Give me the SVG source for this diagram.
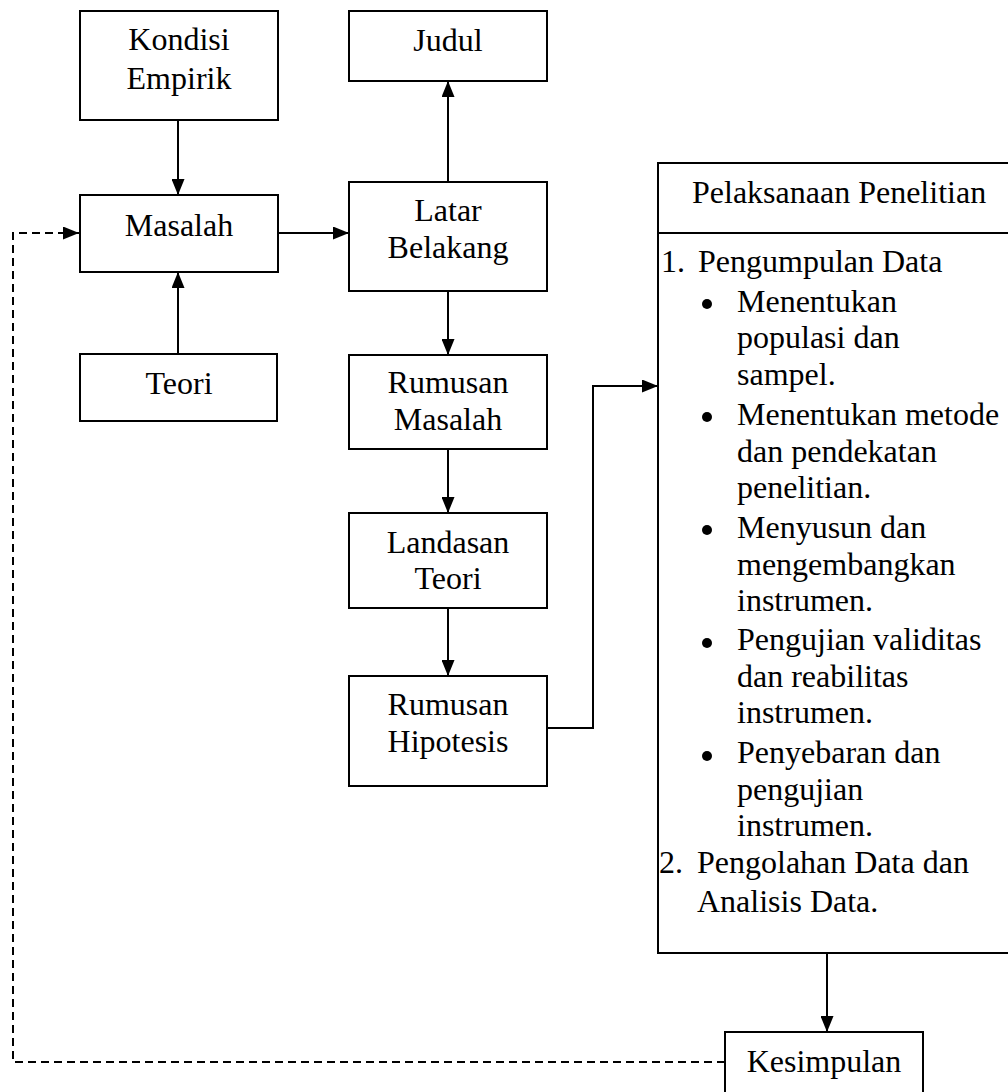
<svg xmlns="http://www.w3.org/2000/svg" width="1008" height="1092" viewBox="0 0 1008 1092">
<defs>
<marker id="ah" viewBox="0 0 16 13" refX="16" refY="6.5" markerWidth="16" markerHeight="13" markerUnits="userSpaceOnUse" orient="auto">
<path d="M0,0 L16,6.5 L0,13 Z" fill="#000"/>
</marker>
<style>
.box{fill:#fff;stroke:#000;stroke-width:2}
.t{font-family:"Liberation Serif","Times New Roman",serif;font-size:32px;fill:#000}
.c{text-anchor:middle}
.ln{fill:none;stroke:#000;stroke-width:2}
.dash{fill:none;stroke:#000;stroke-width:2;stroke-dasharray:8 5}
</style>
</defs>
<rect width="1008" height="1092" fill="#fff"/>

<g id="connectors">
<line class="ln" x1="178" y1="120" x2="178" y2="195" marker-end="url(#ah)"/>
<line class="ln" x1="178" y1="354" x2="178" y2="272" marker-end="url(#ah)"/>
<line class="ln" x1="278" y1="233" x2="349" y2="233" marker-end="url(#ah)"/>
<line class="ln" x1="448" y1="182" x2="448" y2="81" marker-end="url(#ah)"/>
<line class="ln" x1="448" y1="291" x2="448" y2="355" marker-end="url(#ah)"/>
<line class="ln" x1="448" y1="449" x2="448" y2="513" marker-end="url(#ah)"/>
<line class="ln" x1="448" y1="608" x2="448" y2="676" marker-end="url(#ah)"/>
<polyline class="ln" points="547,728 593,728 593,386 658,386" marker-end="url(#ah)"/>
<line class="ln" x1="827" y1="953" x2="827" y2="1032" marker-end="url(#ah)"/>
<polyline class="dash" points="725,1062 13,1062 13,233 79,233" marker-end="url(#ah)"/>
</g>

<g id="kondisi-empirik">
<rect class="box" x="80" y="11" width="198" height="109"/>
<text class="t c" x="179" y="50">Kondisi</text>
<text class="t c" x="179" y="89">Empirik</text>
</g>

<g id="judul">
<rect class="box" x="349" y="11" width="198" height="70"/>
<text class="t c" x="448" y="51">Judul</text>
</g>

<g id="masalah">
<rect class="box" x="80" y="195" width="198" height="77"/>
<text class="t c" x="179" y="236">Masalah</text>
</g>

<g id="latar-belakang">
<rect class="box" x="349" y="182" width="198" height="109"/>
<text class="t c" x="448" y="221">Latar</text>
<text class="t c" x="448" y="258">Belakang</text>
</g>

<g id="teori">
<rect class="box" x="80" y="354" width="197" height="67"/>
<text class="t c" x="179" y="394">Teori</text>
</g>

<g id="rumusan-masalah">
<rect class="box" x="349" y="355" width="198" height="94"/>
<text class="t c" x="448" y="393">Rumusan</text>
<text class="t c" x="448" y="430">Masalah</text>
</g>

<g id="landasan-teori">
<rect class="box" x="349" y="513" width="198" height="95"/>
<text class="t c" x="448" y="553">Landasan</text>
<text class="t c" x="448" y="589">Teori</text>
</g>

<g id="rumusan-hipotesis">
<rect class="box" x="349" y="676" width="198" height="110"/>
<text class="t c" x="448" y="715">Rumusan</text>
<text class="t c" x="448" y="752">Hipotesis</text>
</g>

<g id="pelaksanaan-penelitian">
<rect class="box" x="658" y="163" width="360" height="790"/>
<line class="ln" x1="658" y1="233" x2="1018" y2="233"/>
<text class="t" x="692" y="203">Pelaksanaan Penelitian</text>
<text class="t" x="661" y="272">1.</text>
<text class="t" x="698" y="272">Pengumpulan Data</text>
<circle cx="707" cy="304" r="5"/>
<text class="t" x="737" y="312">Menentukan</text>
<text class="t" x="737" y="348">populasi dan</text>
<text class="t" x="737" y="385">sampel.</text>
<circle cx="707" cy="417" r="5"/>
<text class="t" x="737" y="425">Menentukan metode</text>
<text class="t" x="737" y="462">dan pendekatan</text>
<text class="t" x="737" y="498">penelitian.</text>
<circle cx="707" cy="530" r="5"/>
<text class="t" x="737" y="538">Menyusun dan</text>
<text class="t" x="737" y="575">mengembangkan</text>
<text class="t" x="737" y="611">instrumen.</text>
<circle cx="707" cy="643" r="5"/>
<text class="t" x="737" y="650">Pengujian validitas</text>
<text class="t" x="737" y="687">dan reabilitas</text>
<text class="t" x="737" y="723">instrumen.</text>
<circle cx="707" cy="756" r="5"/>
<text class="t" x="737" y="763">Penyebaran dan</text>
<text class="t" x="737" y="800">pengujian</text>
<text class="t" x="737" y="836">instrumen.</text>
<text class="t" x="659" y="873">2.</text>
<text class="t" x="697" y="873">Pengolahan Data dan</text>
<text class="t" x="697" y="912">Analisis Data.</text>
</g>

<g id="kesimpulan">
<rect class="box" x="725" y="1032" width="198" height="70"/>
<text class="t c" x="824" y="1072">Kesimpulan</text>
</g>
</svg>
